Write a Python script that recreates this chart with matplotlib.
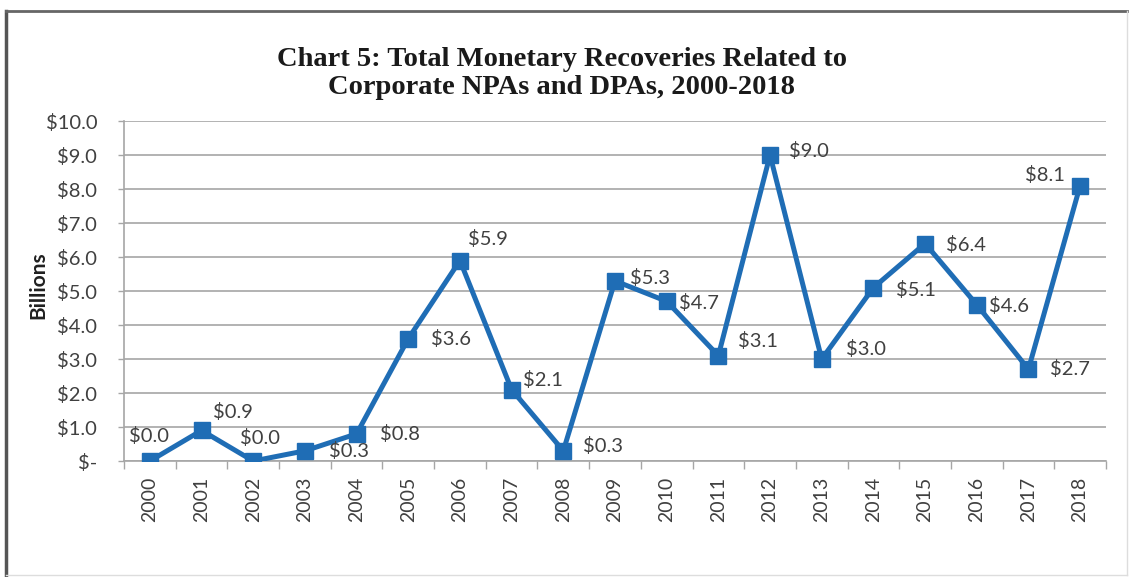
import numpy as np
import matplotlib.pyplot as plt
from matplotlib.lines import Line2D

years = [str(y) for y in range(2000, 2019)]
recoveries = [0.0, 0.9, 0.0, 0.3, 0.8, 3.6, 5.9, 2.1, 0.3, 5.3,
              4.7, 3.1, 9.0, 3.0, 5.1, 6.4, 4.6, 2.7, 8.1]
y_ticks = [0, 1, 2, 3, 4, 5, 6, 7, 8, 9, 10]
y_tick_labels = ['$-'] + ['${:.1f}'.format(v) for v in y_ticks[1:]]

# label offsets in pixels (dx right, dy up, ha)
label_pos = [(-1, 25, 'center'), (11, 18, 'left'), (7, 23, 'center'),
             (24, 0, 'left'), (23, 0, 'left'), (23, 0, 'left'),
             (8, 22, 'left'), (11, 10, 'left'), (20, 5, 'left'),
             (15, 3, 'left'), (12, -2, 'left'), (20, 15, 'left'),
             (19, 4, 'left'), (24, 10, 'left'), (23, -2, 'left'),
             (21, -1, 'left'), (12, -1, 'left'), (22, 0, 'left'),
             (-15, 11, 'right')]

blue = '#1f6db5'
grid_col = '#a6a6a6'
text_col = '#404040'

plt.rcParams['font.family'] = ['Lato', 'DejaVu Sans']

fig = plt.figure(figsize=(11.35, 5.77), dpi=100)
ax = fig.add_axes([0.1093, 0.201, 0.8651, 0.589])

x = np.arange(len(years))
ax.plot(x, recoveries, color=blue, lw=3.6, marker='s', markersize=11,
        markerfacecolor=blue, markeredgecolor=blue, zorder=3)

for i, v in enumerate(recoveries):
    dx, dy, ha = label_pos[i]
    ax.annotate('${:.1f}'.format(v), (i, v), xytext=(dx, dy),
                textcoords='offset pixels', ha=ha, va='center',
                fontsize=14.5, color=text_col, zorder=4)

ax.set_xlim(-0.5, len(years) - 0.5)
ax.set_ylim(0, 10)
ax.set_yticks(y_ticks)
ax.set_yticklabels(y_tick_labels, fontsize=14.5, color=text_col)
ax.set_xticks(x)
ax.set_xticklabels(years, rotation=90, fontsize=14, color=text_col)
ax.set_xticks(np.arange(-0.5, len(years)), minor=True)
ax.tick_params(axis='x', which='major', length=0, pad=11.5)
ax.tick_params(axis='x', which='minor', length=6, color=grid_col, width=1)
ax.tick_params(axis='y', length=4.3, color=grid_col, width=1, pad=15)

ax.grid(axis='y', color=grid_col, lw=1.2)
ax.set_axisbelow(True)
for side in ['top', 'right']:
    ax.spines[side].set_visible(False)
for side in ['left', 'bottom']:
    ax.spines[side].set_color(grid_col)
    ax.spines[side].set_linewidth(1.2)

ax.set_ylabel('Billions', fontsize=15, fontweight='bold', color='#202020')
ax.yaxis.set_label_coords(-0.077, 0.518)

fig.text(0.495, 0.873, 'Chart 5: Total Monetary Recoveries Related to\n'
         'Corporate NPAs and DPAs, 2000-2018', ha='center', va='center',
         fontsize=20.5, fontweight='bold', family='Liberation Serif',
         color='#1a1a1a', linespacing=1.15)

# outer frame
fig.add_artist(Line2D([0.0053, 0.0053], [0.003, 0.981], color='#555555',
                      lw=2.5, transform=fig.transFigure))
fig.add_artist(Line2D([0.0053, 0.993], [0.981, 0.981], color='#666666',
                      lw=2, transform=fig.transFigure))
fig.add_artist(Line2D([0.993, 0.993], [0.003, 0.981], color='#dddddd',
                      lw=1, transform=fig.transFigure))
fig.add_artist(Line2D([0.0053, 0.993], [0.004, 0.004], color='#dddddd',
                      lw=1, transform=fig.transFigure))

fig.savefig('out.png', dpi=100)
